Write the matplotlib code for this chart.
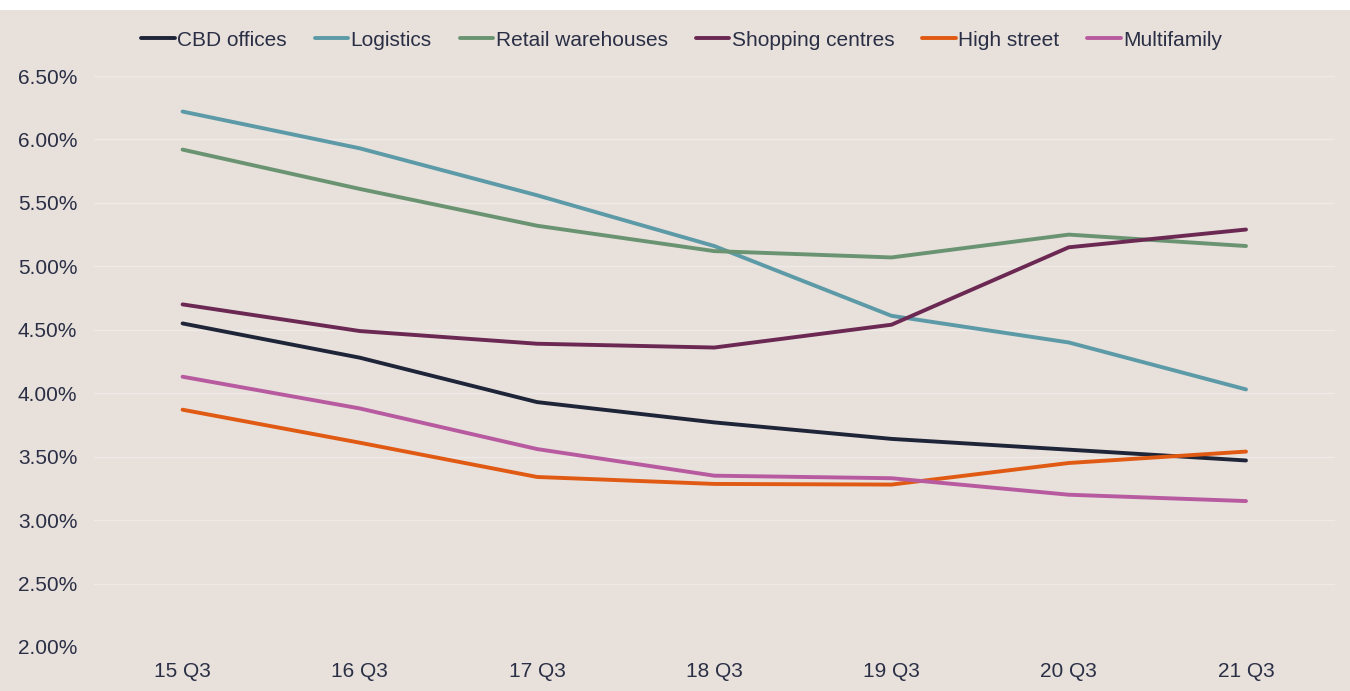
import matplotlib

matplotlib.use("Agg")
import matplotlib.pyplot as plt
from matplotlib.patches import Rectangle
from matplotlib.ticker import FuncFormatter

plt.rcParams["font.family"] = ["Liberation Sans", "DejaVu Sans"]

quarters = ["15 Q3", "16 Q3", "17 Q3", "18 Q3", "19 Q3", "20 Q3", "21 Q3"]

cbd_offices = [4.55, 4.28, 3.93, 3.77, 3.64, 3.555, 3.47]
logistics = [6.22, 5.93, 5.56, 5.16, 4.61, 4.40, 4.03]
retail_warehouses = [5.92, 5.61, 5.32, 5.12, 5.07, 5.25, 5.16]
shopping_centres = [4.70, 4.49, 4.39, 4.36, 4.54, 5.15, 5.29]
high_street = [3.87, 3.61, 3.34, 3.285, 3.28, 3.45, 3.54]
multifamily = [4.13, 3.88, 3.56, 3.35, 3.33, 3.20, 3.15]

series = [
    ("CBD offices", cbd_offices, "#1f2538"),
    ("Logistics", logistics, "#5b9aa6"),
    ("Retail warehouses", retail_warehouses, "#6a9471"),
    ("Shopping centres", shopping_centres, "#6b2852"),
    ("High street", high_street, "#e05a14"),
    ("Multifamily", multifamily, "#b85a9f"),
]

BG = "#e7e0db"
TEXT = "#2a2f45"

fig = plt.figure(figsize=(13.5, 6.91), dpi=100, facecolor=BG)
# thin white strip along the top edge
fig.patches.append(Rectangle((0, 0.986), 1, 0.014, transform=fig.transFigure,
                             facecolor="white", edgecolor="none", zorder=0))

ax = fig.add_axes([0.0696, 0.0637, 0.919, 0.8263])
ax.set_facecolor(BG)

x = list(range(len(quarters)))
for name, values, color in series:
    ax.plot(x, values, color=color, linewidth=2.8, label=name,
            solid_capstyle="round", solid_joinstyle="round")

ax.set_xlim(-0.5, 6.5)
ax.set_ylim(2.0, 6.5)
ax.set_yticks([2.0, 2.5, 3.0, 3.5, 4.0, 4.5, 5.0, 5.5, 6.0, 6.5])
ax.yaxis.set_major_formatter(FuncFormatter(lambda v, _: f"{v:.2f}%"))
ax.set_xticks(x)
ax.set_xticklabels(quarters)
ax.grid(axis="y", color="#eeeae6", linewidth=1.0)
ax.set_axisbelow(True)
for spine in ax.spines.values():
    spine.set_visible(False)
ax.tick_params(axis="both", length=0, labelsize=15, colors=TEXT)
ax.tick_params(axis="y", pad=12)
ax.tick_params(axis="x", pad=11)

fig.legend(loc="center", bbox_to_anchor=(0.505, 0.942), ncol=6, frameon=False,
           fontsize=15, handlelength=1.6, handletextpad=0.12,
           columnspacing=1.35, labelcolor=TEXT)

fig.savefig("out.png", dpi=100, facecolor=BG)
